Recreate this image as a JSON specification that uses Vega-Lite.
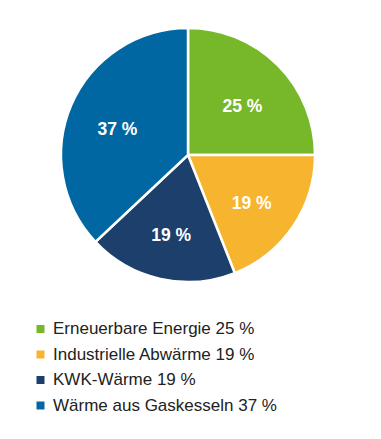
{
  "$schema": "https://vega.github.io/schema/vega-lite/v6.json",
  "width": 376,
  "height": 310,
  "autosize": {"type": "none"},
  "padding": {"left": 0, "top": 0, "right": 5, "bottom": 129},
  "background": "white",
  "config": {"view": {"stroke": null}, "font": "Liberation Sans"},
  "data": {
    "values": [
      {"name": "Erneuerbare Energie 25 %", "value": 25, "label": "25 %", "order": 1},
      {"name": "Industrielle Abwärme 19 %", "value": 19, "label": "19 %", "order": 2},
      {"name": "KWK-Wärme 19 %", "value": 19, "label": "19 %", "order": 3},
      {"name": "Wärme aus Gaskesseln 37 %", "value": 37, "label": "37 %", "order": 4}
    ]
  },
  "encoding": {
    "theta": {"field": "value", "type": "quantitative", "stack": true},
    "order": {"field": "order", "type": "quantitative"},
    "color": {
      "field": "name",
      "type": "nominal",
      "sort": null,
      "scale": {
        "domain": ["Erneuerbare Energie 25 %", "Industrielle Abwärme 19 %", "KWK-Wärme 19 %", "Wärme aus Gaskesseln 37 %"],
        "range": ["#77b82b", "#f6b42f", "#1d3f6c", "#0067a2"]
      },
      "legend": {
        "title": null,
        "orient": "none",
        "legendX": 32,
        "legendY": 320.5,
        "direction": "vertical",
        "symbolType": "square",
        "symbolSize": 64,
        "symbolStrokeWidth": 0,
        "labelFontSize": 17,
        "labelColor": "#222222",
        "labelFont": "Liberation Sans",
        "labelOffset": 4,
        "labelLimit": 0,
        "rowPadding": 7.5,
        "padding": 0
      }
    }
  },
  "layer": [
    {
      "mark": {"type": "arc", "outerRadius": 127, "stroke": "white", "strokeWidth": 2.5}
    },
    {
      "mark": {"type": "text", "radius": 77, "dy": 6, "fontSize": 17.5, "fontWeight": "bold", "fill": "white", "font": "Liberation Sans"},
      "encoding": {
        "text": {"field": "label"},
        "color": {"value": "white"}
      }
    }
  ]
}
